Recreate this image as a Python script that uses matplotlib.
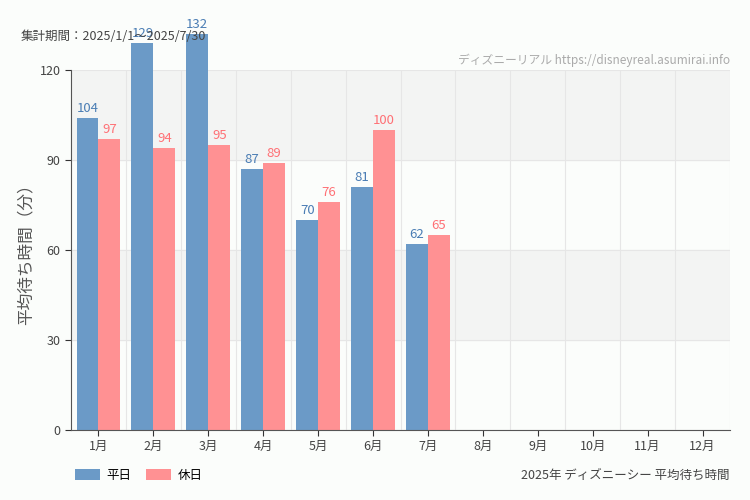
import matplotlib
matplotlib.use("Agg")
import matplotlib.pyplot as plt
import numpy as np

plt.rcParams["font.family"] = ["Noto Sans CJK JP", "DejaVu Sans"]

months = ["1月","2月","3月","4月","5月","6月","7月","8月","9月","10月","11月","12月"]
weekday = [104, 129, 132, 87, 70, 81, 62]
holiday = [97, 94, 95, 89, 76, 100, 65]
yticks = [0, 30, 60, 90, 120]

blue = "#6b9ac7"; pink = "#ff9193"
fig = plt.figure(figsize=(7.5, 5), dpi=100, facecolor="#fbfdfb")
ax = fig.add_axes([0.0947, 0.14, 0.8786, 0.72])
ax.set_facecolor("#fbfdfb")
ax.set_xlim(-0.5, 11.5); ax.set_ylim(0, 120)
for lo, hi in [(30, 60), (90, 120)]:
    ax.axhspan(lo, hi, color="#f3f4f3", zorder=0)
for y in yticks:
    ax.axhline(y, color="#e6e6e6", lw=0.8, zorder=0.5)
for i in range(12):
    ax.axvline(i + 0.5, color="#e6e6e6", lw=0.8, zorder=0.5)

x = np.arange(len(weekday)); w = 0.4
b1 = ax.bar(x - w/2, weekday, w, color=blue, clip_on=False, zorder=2, label="平日")
b2 = ax.bar(x + w/2, holiday, w, color=pink, clip_on=False, zorder=2, label="休日")
for xi, v in zip(x, weekday):
    ax.text(xi - w/2, v + 1, str(v), ha="center", va="bottom", color="#4a7db4", fontsize=9.5, zorder=3)
for xi, v in zip(x, holiday):
    ax.text(xi + w/2, v + 1, str(v), ha="center", va="bottom", color="#ff7075", fontsize=9.5, zorder=3)

ax.set_xticks(range(12)); ax.set_xticklabels(months, fontsize=9, color="#444")
ax.set_yticks(yticks); ax.set_yticklabels([str(t) for t in yticks], fontsize=9, color="#444")
ax.tick_params(length=4, color="#333")
for s in ["top", "right"]:
    ax.spines[s].set_visible(False)
for s in ["left", "bottom"]:
    ax.spines[s].set_color("#555")
ax.set_ylabel("平均待ち時間（分）", fontsize=12, color="#555")

fig.text(0.027, 0.927, "集計期間：2025/1/1～2025/7/30", fontsize=9, color="#444", va="center")
fig.text(0.973, 0.88, "ディズニーリアル https://disneyreal.asumirai.info", fontsize=8.5, color="#aaa", ha="right", va="center")
fig.text(0.973, 0.05, "2025年 ディズニーシー 平均待ち時間", fontsize=9, color="#444", ha="right", va="center")
fig.legend(handles=[b1, b2], loc="center left", bbox_to_anchor=(0.085, 0.05), ncol=2, frameon=False,
           fontsize=9, handlelength=2.0, handleheight=1.0, columnspacing=1.2, handletextpad=0.5)
fig.savefig("out.png", dpi=100, facecolor=fig.get_facecolor())
